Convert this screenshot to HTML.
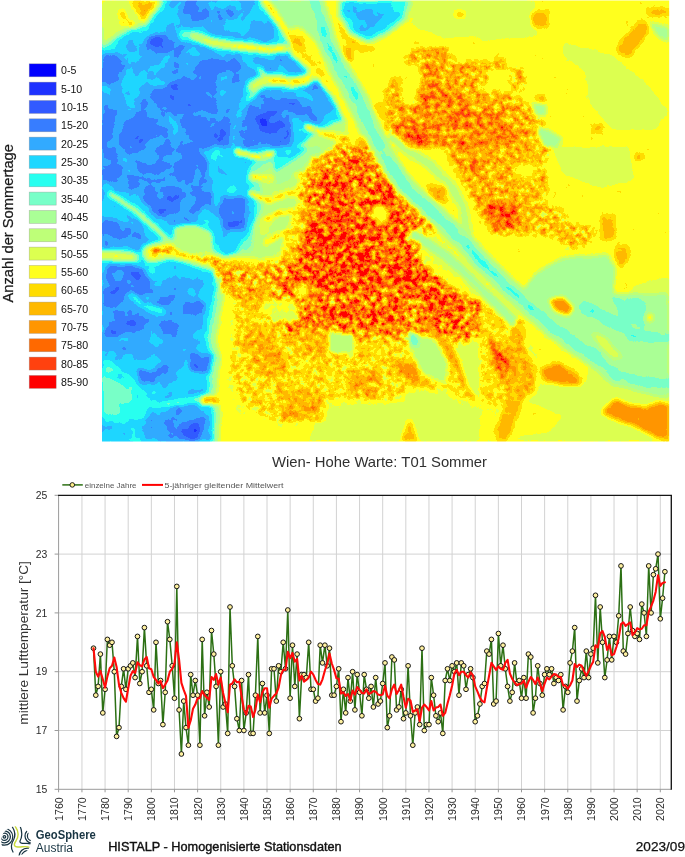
<!DOCTYPE html>
<html lang="de"><head><meta charset="utf-8"><title>Wien - Hohe Warte: Sommertage und Sommertemperatur</title>
<style>html,body{margin:0;padding:0;background:#fff}body{width:685px;height:857px;overflow:hidden}svg{display:block}text{font-family:"Liberation Sans",sans-serif}</style>
</head><body>
<svg width="685" height="857" viewBox="0 0 685 857">
<defs>
<clipPath id="mc"><rect x="102.0" y="0.6" width="567.2" height="441.0"/></clipPath>
<filter id="bl" x="0" y="0" width="685" height="460" filterUnits="userSpaceOnUse" color-interpolation-filters="sRGB">
<feGaussianBlur in="SourceGraphic" stdDeviation="2.2" result="S0"/>
<feColorMatrix in="S0" type="matrix" values="1 0 0 0 0  1 0 0 0 0  1 0 0 0 0  0 0 0 0 1" result="V"/>
<feColorMatrix in="S0" type="matrix" values="0 1 0 0 0  0 1 0 0 0  0 1 0 0 0  0 0 0 0 1" result="M"/>
<feColorMatrix in="S0" type="matrix" values="0 -1 0 0 1  0 -1 0 0 1  0 -1 0 0 1  0 0 0 0 1" result="Mi"/>
<feColorMatrix in="S0" type="matrix" values="0 0 1 0 0  0 0 1 0 0  0 0 1 0 0  0 0 0 0 1" result="B"/>
<feColorMatrix in="S0" type="matrix" values="0 0 -1 0 1  0 0 -1 0 1  0 0 -1 0 1  0 0 0 0 1" result="Bi"/>
<feTurbulence type="fractalNoise" baseFrequency="0.17" numOctaves="3" seed="7" result="T"/>
<feColorMatrix in="T" type="matrix" values="1.6 0 0 0 -0.3  1.6 0 0 0 -0.3  1.6 0 0 0 -0.3  0 0 0 0 1" result="N"/>
<feTurbulence type="fractalNoise" baseFrequency="0.055" numOctaves="3" seed="3" result="T2"/>
<feColorMatrix in="T2" type="matrix" values="0 1.6 0 0 -0.3  0 1.6 0 0 -0.3  0 1.6 0 0 -0.3  0 0 0 0 1" result="N2"/>
<feComposite in="V" in2="Mi" operator="arithmetic" k1="0" k2="1" k3="0.225" k4="-0.225" result="F"/>
<feComposite in="M" in2="N" operator="arithmetic" k1="1" k2="0" k3="0" k4="0" result="P"/>
<feComposite in="F" in2="P" operator="arithmetic" k1="0" k2="1" k3="0.45" k4="0" result="V2"/>
<feComposite in="B" in2="N2" operator="arithmetic" k1="1" k2="0" k3="0" k4="0" result="Q"/>
<feComposite in="V2" in2="Q" operator="arithmetic" k1="0" k2="1" k3="0.1" k4="0" result="V3"/>
<feComposite in="V3" in2="Bi" operator="arithmetic" k1="0" k2="1" k3="0.05" k4="-0.05" result="V4"/>
<feComponentTransfer in="V4" result="D"><feFuncR type="discrete" tableValues="0.000 0.118 0.196 0.216 0.196 0.118 0.157 0.471 0.667 0.745 0.863 1.000 1.000 1.000 1.000 1.000 1.000 1.000"/><feFuncG type="discrete" tableValues="0.000 0.196 0.353 0.490 0.667 0.843 1.000 1.000 1.000 1.000 1.000 1.000 0.863 0.725 0.588 0.412 0.255 0.000"/><feFuncB type="discrete" tableValues="1.000 1.000 1.000 1.000 1.000 1.000 0.941 0.784 0.588 0.471 0.314 0.118 0.000 0.000 0.000 0.000 0.059 0.000"/><feFuncA type="linear" slope="0" intercept="1"/></feComponentTransfer>
<feGaussianBlur in="D" stdDeviation="0.55"/>
</filter>
<clipPath id="lc"><circle cx="16" cy="841" r="14.8"/></clipPath>
</defs>
<rect width="685" height="857" fill="#fff"/>
<g clip-path="url(#mc)">
<g filter="url(#bl)"><rect x="60" y="-30" width="660" height="510" fill="#a31440"/>
<polygon fill="#95004c" points="406.9,0.0 480.0,0.0 480.0,35.9 445.5,38.6 415.2,27.6"/>
<polygon fill="#95004c" points="480.0,0.0 535.2,0.0 536.6,35.9 507.6,38.6 480.0,41.4"/>
<polygon fill="#95004c" points="562.8,41.4 612.4,55.2 645.5,82.8 669.0,110.4 656.6,129.7 612.4,129.7 590.4,104.8 584.8,71.7 562.8,55.2"/>
<polygon fill="#95004c" points="551.7,147.0 629.0,147.0 634.5,180.1 601.4,188.4 562.8,174.6"/>
<polygon fill="#95004c" points="634.5,285.0 669.0,276.7 669.0,294.1 629.0,294.1"/>
<polygon fill="#95004c" points="324.1,398.8 373.8,396.1 412.4,390.6 445.5,398.8 480.0,404.4 480.0,441.1 307.6,441.1 318.6,418.2"/>
<polygon fill="#95004c" points="448.3,343.7 480.0,338.1 480.0,404.4 462.1,385.1"/>
<polygon fill="#95004c" points="480.0,294.0 669.0,294.0 669.0,441.1 480.0,441.1"/>
<polygon fill="#a31440" points="480.0,294.0 513.1,294.0 535.2,327.1 562.8,349.2 590.4,365.7 584.8,382.3 535.2,385.1 507.6,390.6 480.0,385.1"/>
<polygon fill="#a31440" points="480.0,398.8 535.2,404.4 562.8,415.4 549.0,432.0 480.0,441.1"/>
<polygon fill="#780066" stroke="#780066" stroke-width="20.6" stroke-linejoin="round" points="71.1,273.2 211.3,273.2 214.4,288.7 209.2,314.4 205.1,340.2 210.2,360.8 205.1,391.8 210.2,417.5 207.7,441.8 207.7,474.2 71.1,474.2"/>
<polygon fill="#6a0099" stroke="#6a0099" stroke-width="11.3" stroke-linejoin="round" points="71.1,273.2 211.3,273.2 214.4,288.7 209.2,314.4 205.1,340.2 210.2,360.8 205.1,391.8 210.2,417.5 207.7,441.8 207.7,474.2 71.1,474.2"/>
<polygon fill="#780066" stroke="#780066" stroke-width="36.1" stroke-linejoin="round" points="71.1,49.0 102.0,45.4 117.5,37.1 143.2,26.8 162.8,0.0 162.8,-30.9 268.0,-30.9 268.0,0.0 279.8,23.2 297.9,43.8 315.9,59.3 331.4,82.5 344.3,105.7 336.5,123.7 318.5,135.1 297.9,141.8 277.3,146.9 256.6,154.6 245.3,167.5 246.3,185.6 252.5,203.6 251.5,221.6 241.2,239.7 225.7,252.6 212.8,268.0 212.8,280.9 71.1,280.9"/>
<polygon fill="#6a0099" stroke="#6a0099" stroke-width="22.7" stroke-linejoin="round" points="71.1,49.0 102.0,45.4 117.5,37.1 143.2,26.8 162.8,0.0 162.8,-30.9 268.0,-30.9 268.0,0.0 279.8,23.2 297.9,43.8 315.9,59.3 331.4,82.5 344.3,105.7 336.5,123.7 318.5,135.1 297.9,141.8 277.3,146.9 256.6,154.6 245.3,167.5 246.3,185.6 252.5,203.6 251.5,221.6 241.2,239.7 225.7,252.6 212.8,268.0 212.8,280.9 71.1,280.9"/>
<polygon fill="#4e00e6" stroke="#4e00e6" stroke-width="7.2" stroke-linejoin="round" points="71.1,49.0 102.0,45.4 117.5,37.1 143.2,26.8 162.8,0.0 162.8,-30.9 268.0,-30.9 268.0,0.0 279.8,23.2 297.9,43.8 315.9,59.3 331.4,82.5 344.3,105.7 336.5,123.7 318.5,135.1 297.9,141.8 277.3,146.9 256.6,154.6 245.3,167.5 246.3,185.6 252.5,203.6 251.5,221.6 241.2,239.7 225.7,252.6 212.8,268.0 212.8,280.9 71.1,280.9"/>
<polygon fill="#4e00e6" stroke="#4e00e6" stroke-width="3.1" stroke-linejoin="round" points="71.1,273.2 211.3,273.2 214.4,288.7 209.2,314.4 205.1,340.2 210.2,360.8 205.1,391.8 210.2,417.5 207.7,441.8 207.7,474.2 71.1,474.2"/>
<polygon fill="#4000ff" points="71.1,64.4 112.3,56.7 132.9,49.0 158.7,36.1 174.2,15.5 179.3,-30.9 256.6,-30.9 261.8,15.5 277.3,38.7 295.3,56.7 310.8,72.2 323.6,90.2 328.8,108.2 321.1,119.6 305.6,126.8 285.0,131.4 264.4,135.1 246.3,141.8 233.4,154.6 230.9,175.3 236.0,195.9 237.1,213.9 228.3,229.4 212.8,242.3 202.5,257.7 71.1,257.7"/>
<polygon fill="#3900ff" points="143.2,97.9 184.5,87.6 236.0,103.1 256.6,134.0 225.7,170.1 205.1,206.2 163.9,226.8 132.9,206.2 122.6,154.6"/>
<polygon fill="#4700ff" points="165.5,0.0 264.8,0.0 278.6,22.1 256.5,35.9 212.4,30.4 184.8,24.8 171.0,11.0"/>
<polygon fill="#4700ff" points="102.0,55.2 135.1,49.7 146.1,71.7 135.1,99.3 118.6,115.9 102.0,110.4"/>
<polygon fill="#4e00e6" points="195.8,152.5 217.9,147.0 240.0,147.0 245.5,174.6 240.0,202.2 245.5,229.8 234.4,257.4 206.8,268.4 184.8,268.4 157.2,262.9 143.4,251.8 184.8,238.1 206.8,202.2 212.4,180.1"/>
<polygon fill="#4700ff" points="102.0,182.9 143.4,202.2 184.8,238.1 143.4,251.8 102.0,238.1"/>
<polygon fill="#4c00ff" points="71.1,280.9 193.8,280.9 198.9,309.3 193.8,340.2 198.9,360.8 191.2,391.8 196.3,417.5 193.8,474.2 71.1,474.2"/>
<polygon fill="#4000ff" points="102.0,277.4 198.6,277.4 202.7,321.6 198.6,349.2 157.2,357.5 102.0,349.2"/>
<polygon fill="#6a0099" points="337.9,0.0 412.4,0.0 406.9,19.3 387.6,34.5 368.3,42.8 348.9,34.5 339.3,16.6"/>
<polygon fill="#4e00e6" points="343.4,0.0 406.9,0.0 401.4,16.6 384.8,30.4 368.3,38.6 351.7,30.4 343.4,13.8"/>
<polygon fill="#4000ff" points="348.9,8.3 360.0,5.5 376.5,8.3 384.8,16.6 373.8,22.1 357.2,20.7"/>
<polygon fill="#4000ff" points="291.0,91.1 313.1,89.7 329.6,99.3 335.1,110.4 318.6,117.3 302.0,122.8 291.0,125.5"/>
<polygon fill="#3200ff" points="291.0,99.3 304.8,97.9 313.1,107.6 299.3,115.9 291.0,118.6"/>
<polygon fill="#3200ff" points="148.9,35.9 171.0,33.1 184.8,44.1 179.3,55.2 157.2,52.4 146.1,46.9"/>
<polygon fill="#3200ff" points="102.0,55.2 118.6,52.4 126.8,66.2 118.6,82.8 102.0,85.5"/>
<polygon fill="#3200ff" points="146.1,91.1 173.7,82.8 193.1,69.0 212.4,63.5 223.4,71.7 212.4,82.8 217.9,96.6 206.8,110.4 184.8,115.9 171.0,104.8 154.4,104.8"/>
<polygon fill="#3200ff" points="209.6,60.7 234.4,57.9 245.5,69.0 231.7,74.5 212.4,71.7"/>
<polygon fill="#3200ff" points="132.4,110.4 157.2,115.9 151.7,138.0 135.1,147.1 118.6,147.1 121.3,124.2"/>
<polygon fill="#3200ff" points="102.0,104.8 115.8,110.4 113.0,138.0 102.0,147.1"/>
<polygon fill="#3200ff" points="251.0,104.8 291.0,99.3 291.0,147.1 245.5,147.1 240.0,129.7"/>
<polygon fill="#3200ff" points="184.8,0.0 206.8,0.0 209.6,16.6 193.1,22.1 182.0,13.8"/>
<polygon fill="#3200ff" points="215.1,8.3 231.7,5.5 234.4,19.3 217.9,22.1"/>
<polygon fill="#3200ff" points="193.1,118.6 220.6,121.4 226.2,138.0 212.4,147.1 193.1,147.1"/>
<polygon fill="#2300ff" points="256.5,113.1 278.6,110.4 284.1,126.9 267.5,132.4 256.5,124.2"/>
<circle fill="#0700ff" cx="263.4" cy="121.4" r="2.5"/>
<polyline fill="none" stroke="#4e00e6" stroke-width="3.9" stroke-linecap="round" stroke-linejoin="round" points="143.4,24.8 140.6,41.4 132.4,60.7 125.5,80.0 124.1,93.8 133.7,106.2"/>
<polyline fill="none" stroke="#4e00e6" stroke-width="3.9" stroke-linecap="round" stroke-linejoin="round" points="184.8,35.9 171.0,52.4 161.3,66.2 140.6,71.7"/>
<polyline fill="none" stroke="#4e00e6" stroke-width="4.4" stroke-linecap="round" stroke-linejoin="round" points="248.2,96.6 240.0,110.4 234.4,126.9 233.1,147.1"/>
<polyline fill="none" stroke="#4e00e6" stroke-width="3.3" stroke-linecap="round" stroke-linejoin="round" points="157.2,11.0 173.7,16.6 184.8,30.4"/>
<polyline fill="none" stroke="#4e00e6" stroke-width="3.3" stroke-linecap="round" stroke-linejoin="round" points="168.2,115.9 176.5,124.2 173.7,147.1"/>
<polyline fill="none" stroke="#4e00e6" stroke-width="3.3" stroke-linecap="round" stroke-linejoin="round" points="220.6,0.0 223.4,13.8 234.4,27.6"/>
<polyline fill="none" stroke="#4e00e6" stroke-width="3.3" stroke-linecap="round" stroke-linejoin="round" points="231.7,30.4 245.5,24.8 256.5,11.0 260.6,0.0"/>
<polyline fill="none" stroke="#4e00e6" stroke-width="3.3" stroke-linecap="round" stroke-linejoin="round" points="107.5,91.1 124.1,93.8"/>
<polyline fill="none" stroke="#4e00e6" stroke-width="3.3" stroke-linecap="round" stroke-linejoin="round" points="193.1,49.7 206.8,57.9 223.4,55.2"/>
<polygon fill="#3200ff" points="102.0,163.6 124.1,166.3 118.6,182.9 102.0,180.1"/>
<polygon fill="#3200ff" points="154.4,147.0 195.8,147.0 209.6,163.6 206.8,180.1 184.8,177.4 173.7,163.6 157.2,163.6"/>
<polygon fill="#3200ff" points="143.4,188.4 179.3,185.6 182.0,210.5 157.2,216.0 143.4,202.2"/>
<polygon fill="#3200ff" points="223.4,193.9 245.5,196.7 245.5,229.8 223.4,229.8 217.9,213.2"/>
<polygon fill="#3200ff" points="102.0,218.7 129.6,224.3 143.4,238.1 118.6,238.1 102.0,235.3"/>
<polygon fill="#3200ff" points="107.5,262.9 143.4,268.4 157.2,294.1 102.0,294.1"/>
<polygon fill="#3200ff" points="102.0,147.0 118.6,147.0 115.8,158.0 102.0,158.0"/>
<polygon fill="#3200ff" points="193.1,188.4 212.4,191.1 212.4,204.9 195.8,202.2"/>
<polyline fill="none" stroke="#4e00e6" stroke-width="12.1" stroke-linecap="round" stroke-linejoin="round" points="110.3,193.9 135.1,210.5 157.2,229.8 171.0,243.6"/>
<polyline fill="none" stroke="#6a0099" stroke-width="6.1" stroke-linecap="round" stroke-linejoin="round" points="110.3,193.9 135.1,210.5 157.2,229.8 171.0,243.6"/>
<polyline fill="none" stroke="#95004c" stroke-width="2.5" stroke-linecap="round" stroke-linejoin="round" points="110.3,193.9 135.1,210.5 157.2,229.8 171.0,243.6"/>
<polyline fill="none" stroke="#4e00e6" stroke-width="3.3" stroke-linecap="round" stroke-linejoin="round" points="129.6,171.8 157.2,177.4 168.2,171.8"/>
<polyline fill="none" stroke="#4e00e6" stroke-width="3.3" stroke-linecap="round" stroke-linejoin="round" points="118.6,147.0 126.8,163.6 129.6,171.8"/>
<polygon fill="#3200ff" points="110.3,321.6 137.9,318.8 146.1,329.9 118.6,338.1 102.0,335.4"/>
<polygon fill="#3200ff" points="154.4,324.4 179.3,321.6 176.5,338.1 157.2,338.1"/>
<polygon fill="#3200ff" points="182.0,302.3 206.8,302.3 206.8,313.3 184.8,316.1"/>
<polygon fill="#3200ff" points="187.5,351.9 212.4,354.7 209.6,374.0 190.3,371.3"/>
<polygon fill="#3200ff" points="137.9,368.5 157.2,371.3 157.2,385.1 140.6,382.3"/>
<polygon fill="#3200ff" points="102.0,385.1 118.6,387.8 118.6,398.8 102.0,404.4"/>
<polygon fill="#3200ff" points="102.0,294.0 126.8,294.0 118.6,305.0 102.0,307.8"/>
<polygon fill="#3200ff" points="176.5,423.7 206.8,415.4 201.3,441.1 179.3,441.1"/>
<polygon fill="#4000ff" points="157.2,349.2 184.8,346.4 184.8,376.8 162.7,387.8 154.4,365.7"/>
<polygon fill="#4000ff" points="151.7,409.9 212.4,404.4 212.4,441.1 143.4,441.1"/>
<polygon fill="#3200ff" points="176.5,423.7 206.8,415.4 201.3,441.1 179.3,441.1"/>
<polygon fill="#2300ff" points="182.0,429.2 198.6,423.7 195.8,441.1 183.4,441.1"/>
<polygon fill="#5c00e6" points="102.0,357.5 118.6,363.0 129.6,376.8 148.9,398.8 146.1,415.4 118.6,423.7 102.0,423.7"/>
<polygon fill="#6a0099" points="102.0,376.8 118.6,379.5 132.4,396.1 129.6,412.6 102.0,415.4"/>
<polyline fill="none" stroke="#6a0099" stroke-width="3.3" stroke-linecap="round" stroke-linejoin="round" points="132.4,294.0 140.6,305.0 162.7,310.6"/>
<polyline fill="none" stroke="#780066" stroke-width="3.3" stroke-linecap="round" stroke-linejoin="round" points="165.5,404.4 195.8,399.4 212.4,398.8"/>
<polygon fill="#bf3326" points="201.3,396.1 217.9,396.1 217.9,404.4 201.3,404.4"/>
<polygon fill="#4e00e6" points="102.0,0.0 169.6,0.0 161.3,15.2 147.5,30.4 132.4,34.5 121.3,41.4 110.3,49.7 102.0,53.8"/>
<polygon fill="#6a0099" points="102.0,0.0 165.5,0.0 157.2,13.2 145.6,27.0 131.0,30.4 119.9,37.2 108.9,45.5 102.0,49.7"/>
<polygon fill="#95004c" points="102.0,0.0 161.3,0.0 154.4,11.0 143.4,23.5 129.6,26.2 118.6,33.1 107.5,41.4 102.0,45.5"/>
<polygon fill="#b13326" points="131.0,0.0 161.3,0.0 153.0,12.4 143.4,24.3 139.2,16.6 132.4,8.3"/>
<polygon fill="#bf3326" points="136.5,0.0 155.8,0.0 148.9,11.0 142.8,19.3 139.2,11.0"/>
<polygon fill="#b13326" points="118.6,11.0 124.1,8.3 126.8,19.3 139.2,26.2 129.6,27.6 119.9,22.1"/>
<polyline fill="none" stroke="#4e00e6" stroke-width="15.5" stroke-linecap="round" stroke-linejoin="round" points="184.8,35.3 198.6,36.4 212.4,42.8 231.7,45.5 251.0,47.5 267.5,49.7 291.0,46.9"/>
<polyline fill="none" stroke="#6a0099" stroke-width="9.9" stroke-linecap="round" stroke-linejoin="round" points="184.8,35.3 198.6,36.4 212.4,42.8 231.7,45.5 251.0,47.5 267.5,49.7 291.0,46.9"/>
<polyline fill="none" stroke="#95004c" stroke-width="5.5" stroke-linecap="round" stroke-linejoin="round" points="193.1,35.9 212.4,42.8 231.7,45.5 251.0,47.5 267.5,49.7 291.0,46.9"/>
<polyline fill="none" stroke="#a31440" stroke-width="4.4" stroke-linecap="round" stroke-linejoin="round" points="206.8,40.8 231.7,45.5 251.0,47.5 267.5,49.7 291.0,46.9"/>
<polyline fill="none" stroke="#bf4c26" stroke-width="2.5" stroke-linecap="round" stroke-linejoin="round" points="234.4,45.5 251.0,47.5 267.5,49.7 291.0,46.9"/>
<polyline fill="none" stroke="#4e00e6" stroke-width="17.7" stroke-linecap="round" stroke-linejoin="round" points="264.8,0.0 278.6,19.3 291.0,38.6"/>
<polyline fill="none" stroke="#6a0099" stroke-width="12.1" stroke-linecap="round" stroke-linejoin="round" points="264.8,0.0 278.6,19.3 291.0,38.6"/>
<polygon fill="#780066" points="270.3,0.0 291.0,0.0 291.0,35.9 281.3,22.1"/>
<polyline fill="none" stroke="#b13326" stroke-width="6.1" stroke-linecap="round" stroke-linejoin="round" points="264.8,0.0 278.6,19.3 291.0,38.6 303.4,55.2"/>
<polyline fill="none" stroke="#4e00e6" stroke-width="18.2" stroke-linecap="round" stroke-linejoin="round" points="252.4,86.9 264.8,80.6 278.6,80.0 291.0,82.8"/>
<polyline fill="none" stroke="#6a0099" stroke-width="12.7" stroke-linecap="round" stroke-linejoin="round" points="252.4,86.9 264.8,80.6 278.6,80.0 291.0,82.8"/>
<polyline fill="none" stroke="#95004c" stroke-width="8.3" stroke-linecap="round" stroke-linejoin="round" points="253.8,86.1 264.8,80.6 278.6,80.0 291.0,82.8"/>
<polyline fill="none" stroke="#a31440" stroke-width="5.0" stroke-linecap="round" stroke-linejoin="round" points="259.3,82.8 264.8,80.6 278.6,80.0 291.0,82.8"/>
<polyline fill="none" stroke="#6a0099" stroke-width="12.7" stroke-linecap="round" stroke-linejoin="round" points="291.0,82.8 306.2,80.0 320.0,69.0"/>
<polyline fill="none" stroke="#95004c" stroke-width="8.3" stroke-linecap="round" stroke-linejoin="round" points="291.0,82.8 306.2,80.0 320.0,69.0"/>
<polyline fill="none" stroke="#a31440" stroke-width="5.0" stroke-linecap="round" stroke-linejoin="round" points="291.0,82.8 306.2,80.0 320.0,69.0"/>
<polyline fill="none" stroke="#bf6626" stroke-width="3.3" stroke-linecap="round" stroke-linejoin="round" points="273.1,80.6 291.0,82.2 306.2,80.0"/>
<polyline fill="none" stroke="#95004c" stroke-width="3.3" stroke-linecap="round" stroke-linejoin="round" points="267.5,78.6 259.3,69.0"/>
<polyline fill="none" stroke="#780066" stroke-width="3.9" stroke-linecap="round" stroke-linejoin="round" points="259.3,88.3 248.2,99.3"/>
<polyline fill="none" stroke="#4e00e6" stroke-width="16.6" stroke-linecap="round" stroke-linejoin="round" points="99.2,255.2 118.6,256.0 137.9,257.9"/>
<polyline fill="none" stroke="#780066" stroke-width="10.5" stroke-linecap="round" stroke-linejoin="round" points="99.2,255.2 118.6,256.0 135.1,257.4"/>
<polyline fill="none" stroke="#a31440" stroke-width="5.5" stroke-linecap="round" stroke-linejoin="round" points="99.2,255.2 118.6,256.0 132.4,257.4"/>
<polyline fill="none" stroke="#780066" stroke-width="19.9" stroke-linecap="round" stroke-linejoin="round" points="151.7,253.2 171.0,249.6 193.1,255.2 212.4,260.7 226.2,266.2"/>
<polyline fill="none" stroke="#a31440" stroke-width="13.2" stroke-linecap="round" stroke-linejoin="round" points="151.7,253.2 171.0,249.6 193.1,255.2 212.4,260.7 226.2,266.2"/>
<polyline fill="none" stroke="#bfd926" stroke-width="6.6" stroke-linecap="round" stroke-linejoin="round" points="154.4,251.8 171.0,249.6 193.1,255.2 212.4,260.7 226.2,266.2"/>
<polygon fill="#870066" points="173.7,227.0 193.1,224.3 211.0,232.5 212.4,253.2 193.1,256.0 173.7,250.5"/>
<polygon fill="#9c0d4c" stroke="#9c0d4c" stroke-width="18.6" stroke-linejoin="round" points="362.3,121.1 349.4,149.5 334.0,159.8 318.5,175.3 305.6,190.7 295.3,211.3 285.0,232.0 274.7,252.6 256.6,265.5 233.4,263.9 224.7,273.2 238.6,288.7 251.5,309.3 248.9,335.1 238.6,360.8 237.1,386.6 246.3,407.2 272.1,412.4 308.2,407.2 339.1,396.9 386.0,391.8 431.9,384.0 462.8,396.9 493.8,407.2 519.5,399.5 529.8,386.6 527.3,350.5 514.4,329.9 493.8,309.3 493.8,288.7 470.6,257.7 442.2,219.1 411.3,177.8 380.4,141.8"/>
<polygon fill="#ae8026" stroke="#9c0d4c" stroke-width="8.3" stroke-linejoin="round" points="231.6,262.3 405.0,262.3 405.0,398.2 381.4,400.9 325.9,398.2 323.2,420.4 278.8,423.1 242.7,406.5 228.9,373.2 234.4,331.6"/>
<polygon fill="#ae6626" points="362.3,121.1 349.4,149.5 334.0,159.8 318.5,175.3 305.6,190.7 295.3,211.3 285.0,232.0 274.7,252.6 256.6,265.5 233.4,263.9 224.7,273.2 238.6,288.7 251.5,309.3 248.9,335.1 238.6,360.8 237.1,386.6 246.3,407.2 272.1,412.4 308.2,407.2 339.1,396.9 386.0,391.8 431.9,384.0 462.8,396.9 493.8,407.2 519.5,399.5 529.8,386.6 527.3,350.5 514.4,329.9 493.8,309.3 493.8,288.7 470.6,257.7 442.2,219.1 411.3,177.8 380.4,141.8"/>
<polygon fill="#ae8026" points="231.6,262.3 405.0,262.3 405.0,398.2 381.4,400.9 325.9,398.2 323.2,420.4 278.8,423.1 242.7,406.5 228.9,373.2 234.4,331.6"/>
<polygon fill="#870099" points="340.2,121.1 362.4,132.2 329.1,165.5 301.4,193.2 290.3,220.9 279.2,257.8 251.5,257.8 254.2,226.5 265.3,201.5 259.8,179.3 279.2,157.2 306.9,140.5 326.4,126.6"/>
<polyline fill="none" stroke="#a31440" stroke-width="5.0" stroke-linecap="round" stroke-linejoin="round" points="334.7,162.7 306.9,157.2 279.2,151.6 257.0,157.2 237.6,151.6"/>
<polyline fill="none" stroke="#bf9926" stroke-width="2.8" stroke-linecap="round" stroke-linejoin="round" points="334.7,162.7 306.9,157.2 279.2,151.6 257.0,157.2 237.6,151.6"/>
<polyline fill="none" stroke="#a31440" stroke-width="5.0" stroke-linecap="round" stroke-linejoin="round" points="323.6,179.3 293.1,173.8 273.7,179.3 251.5,176.6"/>
<polyline fill="none" stroke="#bf9926" stroke-width="2.8" stroke-linecap="round" stroke-linejoin="round" points="323.6,179.3 293.1,173.8 273.7,179.3 251.5,176.6"/>
<polyline fill="none" stroke="#a31440" stroke-width="5.0" stroke-linecap="round" stroke-linejoin="round" points="312.5,196.0 287.5,193.2 268.1,201.5 251.5,193.2"/>
<polyline fill="none" stroke="#bf9926" stroke-width="2.8" stroke-linecap="round" stroke-linejoin="round" points="312.5,196.0 287.5,193.2 268.1,201.5 251.5,193.2"/>
<polyline fill="none" stroke="#a31440" stroke-width="5.0" stroke-linecap="round" stroke-linejoin="round" points="304.2,209.9 279.2,212.6 265.3,220.9"/>
<polyline fill="none" stroke="#bf9926" stroke-width="2.8" stroke-linecap="round" stroke-linejoin="round" points="304.2,209.9 279.2,212.6 265.3,220.9"/>
<polyline fill="none" stroke="#a31440" stroke-width="5.0" stroke-linecap="round" stroke-linejoin="round" points="351.3,140.5 329.1,135.0 306.9,126.6"/>
<polyline fill="none" stroke="#bf9926" stroke-width="2.8" stroke-linecap="round" stroke-linejoin="round" points="351.3,140.5 329.1,135.0 306.9,126.6"/>
<polyline fill="none" stroke="#a31440" stroke-width="5.0" stroke-linecap="round" stroke-linejoin="round" points="295.9,229.3 279.2,234.8 265.3,243.1"/>
<polyline fill="none" stroke="#bf9926" stroke-width="2.8" stroke-linecap="round" stroke-linejoin="round" points="295.9,229.3 279.2,234.8 265.3,243.1"/>
<polygon fill="#b8bf26" stroke="#b8bf26" stroke-width="14.1" stroke-linejoin="round" points="362.0,134.8 374.9,149.3 390.9,168.5 407.0,187.8 423.1,207.1 435.9,223.1 413.4,229.6 419.9,248.8 439.1,264.9 460.0,280.9 471.2,297.0 471.2,335.5 288.2,335.5 275.3,309.9 259.3,297.0 240.0,290.6 227.2,287.4 227.2,271.3 240.0,271.3 265.7,271.3 285.0,268.7 299.4,252.0 307.4,232.1 309.1,211.9 304.2,191.0 315.5,168.5 336.4,152.5 349.2,144.5"/>
<polygon fill="#cdffcc" points="362.0,134.8 374.9,149.3 390.9,168.5 407.0,187.8 423.1,207.1 435.9,223.1 413.4,229.6 419.9,248.8 439.1,264.9 460.0,280.9 471.2,297.0 471.2,335.5 288.2,335.5 275.3,309.9 259.3,297.0 240.0,290.6 227.2,287.4 227.2,271.3 240.0,271.3 265.7,271.3 285.0,268.7 299.4,252.0 307.4,232.1 309.1,211.9 304.2,191.0 315.5,168.5 336.4,152.5 349.2,144.5"/>
<polygon fill="#d7ffcc" points="355.6,155.7 368.5,162.1 384.5,181.4 400.6,203.9 416.6,223.1 407.0,236.0 413.4,255.3 432.7,271.3 445.5,290.6 432.7,309.9 400.6,322.7 368.5,325.9 336.4,319.5 309.1,306.6 294.6,284.2 296.2,255.3 304.2,232.8 315.5,207.1 331.5,178.2"/>
<polygon fill="#e1ffcc" points="309.1,216.7 346.0,207.1 368.5,226.4 374.9,258.5 362.0,290.6 329.9,297.0 305.8,277.7 302.6,242.4"/>
<polygon fill="#e1ffcc" points="384.5,252.0 413.4,258.5 426.3,280.9 407.0,297.0 384.5,284.2"/>
<polygon fill="#e1ffcc" points="368.5,187.8 390.9,194.2 397.4,216.7 378.1,219.9"/>
<polygon fill="#e1ffcc" points="320.3,181.4 336.4,175.0 339.6,194.2 323.5,197.4"/>
<polygon fill="#a31440" points="373.3,205.5 387.7,207.1 389.3,219.9 379.7,224.7 371.7,216.7"/>
<polyline fill="none" stroke="#b18026" stroke-width="2.2" stroke-linecap="round" stroke-linejoin="round" points="371.7,160.5 360.4,191.0 355.6,216.7"/>
<polyline fill="none" stroke="#a31440" stroke-width="2.6" stroke-linecap="round" stroke-linejoin="round" points="381.3,274.5 400.6,297.0"/>
<polygon fill="#d7ffcc" points="306.5,290.0 405.0,290.0 405.0,320.5 381.4,326.1 353.7,317.7 325.9,315.0 309.3,303.9"/>
<polygon fill="#bf8026" points="242.7,326.1 270.5,331.6 287.1,359.3 281.6,381.5 259.4,373.2 245.5,351.0"/>
<polygon fill="#bf8026" points="278.8,389.9 320.4,389.9 321.8,419.0 281.6,420.4"/>
<polygon fill="#bf8026" points="348.1,367.7 381.4,370.4 378.6,398.2 350.9,395.4"/>
<polygon fill="#bf8026" points="298.2,326.1 331.5,328.8 328.7,359.3 303.8,356.6"/>
<polygon fill="#870066" points="273.2,306.6 298.2,306.6 298.2,320.5 273.2,320.5"/>
<polygon fill="#870066" points="328.7,331.6 353.7,334.4 353.7,353.8 328.7,352.4"/>
<polygon fill="#bf8026" points="240.0,290.0 270.5,290.0 267.7,306.6 242.7,309.4"/>
<polygon fill="#cdffcc" points="401.4,294.0 480.0,294.0 480.0,335.4 462.1,340.9 445.5,329.9 423.4,321.6 406.9,316.1"/>
<polygon fill="#dcffcc" points="417.9,294.0 456.5,294.0 462.1,310.6 456.5,329.9 440.0,324.4 423.4,310.6"/>
<polygon fill="#bf5926" points="401.4,357.5 423.4,376.8 440.0,390.6 409.6,385.1"/>
<polygon fill="#cd5926" points="393.1,360.2 412.4,363.0 420.7,376.8 401.4,376.8"/>
<polygon fill="#870066" points="406.9,329.9 434.5,338.1 448.3,363.0 445.5,385.1 423.4,374.0 412.4,354.7"/>
<polygon fill="#6a0099" points="408.3,332.6 417.9,335.4 419.3,347.8 409.6,346.4"/>
<polyline fill="none" stroke="#cd3326" stroke-width="6.1" stroke-linecap="round" stroke-linejoin="round" points="423.4,321.6 445.5,343.7 459.3,368.5 473.1,396.1"/>
<polygon fill="#bf2626" points="409.6,418.2 417.9,441.1 401.4,441.1"/>
<polygon fill="#bfd926" points="215.0,258.5 232.5,262.0 250.0,269.1 267.6,270.8 285.1,272.6 295.6,277.8 295.6,295.3 285.1,295.3 267.6,290.1 250.0,293.6 232.5,290.1 215.0,277.8"/>
<polygon fill="#d7ffcc" points="281.6,277.8 295.6,277.8 295.6,295.3 281.6,295.3"/>
<polygon fill="#a31440" points="295.6,284.8 309.6,284.8 309.6,297.1 295.6,297.1"/>
<polygon fill="#9c0d4c" points="262.3,299.7 295.6,299.7 297.3,314.6 260.5,314.6"/>
<polygon fill="#bfa626" points="412.4,49.7 445.5,46.9 456.5,63.5 480.0,60.7 480.0,147.1 387.6,147.1 386.2,124.2 387.6,110.4 386.2,91.1 390.3,82.8 401.4,71.7 406.9,57.9"/>
<polygon fill="#a31440" points="401.4,63.5 420.7,63.5 422.1,82.8 412.4,104.8 401.4,102.1 398.6,82.8"/>
<polygon fill="#cda6cc" points="423.4,63.5 434.5,60.7 440.0,82.8 456.5,91.1 480.0,115.9 480.0,147.1 390.3,147.1 395.8,126.9 412.4,115.9 420.7,93.8"/>
<polygon fill="#dca6cc" points="401.4,129.7 420.7,124.2 429.0,138.0 420.7,147.1 401.4,147.1"/>
<polygon fill="#cda6cc" points="424.8,66.2 433.1,64.8 434.5,80.0 426.2,80.0"/>
<polygon fill="#b8a626" points="480.0,60.7 491.0,63.5 502.1,55.2 507.6,66.2 521.4,69.0 526.9,85.5 515.9,91.1 507.6,82.8 493.8,71.7 485.5,82.8 480.0,82.8"/>
<polygon fill="#a31440" points="488.3,69.0 510.4,69.0 513.1,85.5 491.0,88.3"/>
<polygon fill="#bfa626" points="480.0,91.1 513.1,93.8 535.2,110.4 551.7,138.0 546.2,147.1 480.0,147.1"/>
<polygon fill="#cda6cc" points="480.0,110.4 502.1,115.9 518.6,132.4 513.1,147.1 480.0,147.1"/>
<polygon fill="#b8a626" points="480.0,147.0 551.7,147.0 543.5,163.6 549.0,182.9 543.5,202.2 565.5,213.2 571.1,224.3 595.9,227.0 590.4,240.8 571.1,249.1 549.0,235.3 521.4,235.3 496.6,235.3 480.0,218.7"/>
<polygon fill="#bfa626" points="480.0,147.0 521.4,147.0 513.1,169.1 524.1,188.4 518.6,210.5 529.7,227.0 496.6,232.5 480.0,216.0"/>
<polygon fill="#dca6cc" points="485.5,202.2 515.9,202.2 518.6,227.0 491.0,229.8"/>
<polygon fill="#a31440" points="513.1,163.6 535.2,163.6 535.2,177.4 515.9,177.4"/>
<polygon fill="#bfa626" points="445.5,147.0 480.0,147.0 480.0,216.0 467.6,191.1 453.8,169.1"/>
<polygon fill="#cda6cc" points="462.1,147.0 480.0,147.0 480.0,180.1 470.3,169.1"/>
<polygon fill="#780066" points="291.0,0.0 324.1,0.0 332.4,41.4 346.2,77.3 362.7,115.9 373.8,147.1 351.7,147.1 344.8,115.9 326.9,71.7 302.0,35.9 291.0,27.6"/>
<polygon fill="#a31440" points="291.0,26.2 302.0,27.6 315.8,41.4 328.2,69.0 343.4,96.6 357.2,124.2 365.5,147.1 348.9,147.1 346.2,124.2 332.4,96.6 307.6,69.0 291.0,55.2"/>
<polygon fill="#bf2626" points="291.0,35.9 302.0,38.6 304.8,46.9 291.0,49.7"/>
<polyline fill="none" stroke="#b13326" stroke-width="4.4" stroke-linecap="round" stroke-linejoin="round" points="293.8,44.1 307.6,57.9 320.0,73.1 328.2,85.5"/>
<polyline fill="none" stroke="#bf2626" stroke-width="3.9" stroke-linecap="round" stroke-linejoin="round" points="340.7,24.8 346.2,35.9 362.7,49.7 372.4,47.5"/>
<polygon fill="#bf2626" points="335.1,46.9 351.7,46.9 353.1,60.7 336.5,60.7"/>
<polygon fill="#b12626" points="373.8,102.1 387.6,102.1 387.6,118.6 373.8,118.6"/>
<polygon fill="#bf2626" points="357.2,138.0 365.5,135.2 368.3,147.1 357.2,147.1"/>
<polygon fill="#a31440" points="382.1,147.0 445.5,147.0 453.8,169.1 467.6,191.1 480.0,216.0 480.0,257.4 456.5,240.8 434.5,218.7 409.6,191.1 387.6,163.6"/>
<polygon fill="#9c0d4c" points="420.0,240.5 446.3,230.0 455.0,230.0 540.0,312.3 540.0,323.4 518.1,323.4 490.1,303.6 472.6,298.3 455.0,287.8 437.5,275.5 420.0,259.8"/>
<polygon fill="#bf3326" points="427.6,185.6 445.5,185.6 446.9,202.2 429.0,202.2"/>
<polygon fill="#780066" points="274.4,147.0 321.4,147.0 304.8,163.6 291.0,177.4 274.4,188.4"/>
<polygon fill="#4e00e6" points="274.4,147.0 307.6,147.0 291.0,160.8 274.4,171.8"/>
<polygon fill="#780066" points="562.8,257.4 606.9,254.6 615.2,268.4 612.4,294.1 521.4,294.1 535.2,273.9"/>
<polyline fill="none" stroke="#b18026" stroke-width="2.2" stroke-linecap="round" stroke-linejoin="round" points="477.2,268.4 491.0,285.0 499.3,296.0"/>
<polygon fill="#780066" points="507.6,294.0 669.0,294.0 669.0,398.8 634.5,390.6 606.9,379.5 590.4,365.7 562.8,346.4 535.2,324.4"/>
<polyline fill="none" stroke="#6a0099" stroke-width="11.0" stroke-linecap="round" stroke-linejoin="round" points="582.1,305.0 612.4,321.6 634.5,335.4 670.4,338.1"/>
<polygon fill="#6a0099" points="609.7,294.0 645.5,302.3 645.5,327.1 623.5,321.6"/>
<polygon fill="#95004c" points="590.4,332.6 604.2,335.4 623.5,357.5 609.7,360.2"/>
<polygon fill="#95004c" points="453.8,346.4 480.0,338.1 480.0,404.4 467.6,387.8"/>
<polyline fill="none" stroke="#870066" stroke-width="9.5" stroke-linecap="round" stroke-linejoin="round" points="392.0,138.0 406.0,150.0 431.0,165.0 452.0,187.0 463.0,208.0 468.0,234.0"/>
<polyline fill="none" stroke="#780066" stroke-width="19.0" stroke-linecap="round" stroke-linejoin="round" points="312.0,-8.0 326.0,40.0 340.0,70.0 359.0,100.0 369.0,125.0 382.0,150.0 397.0,176.0 407.0,188.0 435.0,214.0 461.0,239.0 480.0,260.0 503.0,283.0 531.0,308.0 560.0,332.0 596.0,357.0 618.0,376.0 646.0,382.0 675.0,385.0"/>
<polyline fill="none" stroke="#6a0099" stroke-width="9.5" stroke-linecap="round" stroke-linejoin="round" points="312.0,-8.0 326.0,40.0 340.0,70.0 359.0,100.0 369.0,125.0 382.0,150.0 397.0,176.0 407.0,188.0 435.0,214.0 461.0,239.0 480.0,260.0 503.0,283.0 531.0,308.0 560.0,332.0 596.0,357.0 618.0,376.0 646.0,382.0 675.0,385.0"/>
<polyline fill="none" stroke="#5c00e6" stroke-width="3.0" stroke-linecap="round" stroke-linejoin="round" points="312.0,-8.0 326.0,40.0 340.0,70.0 359.0,100.0"/>
<polyline fill="none" stroke="#5c00e6" stroke-width="3.5" stroke-linecap="round" stroke-linejoin="round" points="461.0,239.0 480.0,260.0 503.0,283.0 531.0,308.0"/>
<polyline fill="none" stroke="#780066" stroke-width="9.0" stroke-linecap="round" stroke-linejoin="round" points="414.0,234.0 447.0,257.0 470.0,278.0 498.0,306.0 517.0,325.0"/>
<polygon fill="#bf1a26" points="531.0,12.4 549.0,11.0 547.6,27.6 532.4,27.6"/>
<polygon fill="#bf1a26" points="618.0,44.1 640.0,22.1 651.1,24.8 645.5,35.9 629.0,57.9 618.0,52.4"/>
<polygon fill="#bf1a26" points="642.8,12.4 662.1,6.9 669.0,13.8 656.6,17.1"/>
<polygon fill="#780066" points="648.3,22.1 669.0,27.6 669.0,41.4 659.3,38.6"/>
<polygon fill="#780066" points="532.4,102.1 546.2,104.8 546.2,115.9 535.2,115.9"/>
<polygon fill="#780066" points="535.2,124.2 562.8,138.0 557.3,147.1 543.5,147.1"/>
<polygon fill="#bf1a26" points="593.1,124.2 601.4,124.2 601.4,132.4 593.1,132.4"/>
<polygon fill="#bf1a26" points="535.2,96.6 544.8,93.8 546.2,102.1 536.6,103.5"/>
<polygon fill="#b11a26" points="455.2,11.0 464.8,11.0 464.8,17.9 455.2,17.9"/>
<polygon fill="#bf1a26" points="601.4,216.0 615.2,216.0 615.2,238.1 601.4,240.8"/>
<polygon fill="#bf1a26" points="615.2,246.3 629.0,246.3 629.0,257.4 620.7,268.4 615.2,257.4"/>
<polygon fill="#bf1a26" points="634.5,152.5 645.5,155.3 642.8,160.8 634.5,159.4"/>
<polygon fill="#cd1a26" points="549.0,299.5 562.8,296.8 573.8,307.8 568.3,316.1 554.5,310.6"/>
<polygon fill="#cd1a26" points="540.7,368.5 557.3,363.0 576.6,374.0 582.1,385.1 562.8,385.1 543.5,379.5"/>
<polygon fill="#cd1a26" points="601.4,412.6 615.2,398.8 629.0,404.4 645.5,407.1 659.3,401.6 669.0,404.4 669.0,441.1 656.6,437.5 634.5,426.4 612.4,418.2"/>
<polygon fill="#bf5926" points="488.3,340.9 496.6,340.9 507.6,354.7 515.9,318.8 524.1,321.6 524.1,349.2 535.2,365.7 535.2,390.6 524.1,398.8 507.6,390.6 496.6,376.8"/>
<polygon fill="#dc99cc" points="488.3,340.9 496.6,340.9 510.4,357.5 507.6,376.8 496.6,374.0"/>
<polygon fill="#bf1a26" points="496.6,426.4 507.6,398.8 524.1,398.8 515.9,418.2 507.6,441.1 496.6,441.1"/>
<polygon fill="#a31440" points="645.5,313.3 653.8,313.3 653.8,321.6 645.5,321.6"/></g>
</g>
<g font-size="10.6" fill="#111">
<rect x="29.2" y="63.80" width="27" height="13" fill="#0000ff" stroke="#8a8a8a" stroke-opacity=".55" stroke-width=".6"/>
<text x="61" y="74.40">0-5</text>
<rect x="29.2" y="82.13" width="27" height="13" fill="#1e32ff" stroke="#8a8a8a" stroke-opacity=".55" stroke-width=".6"/>
<text x="61" y="92.73">5-10</text>
<rect x="29.2" y="100.46" width="27" height="13" fill="#325aff" stroke="#8a8a8a" stroke-opacity=".55" stroke-width=".6"/>
<text x="61" y="111.06">10-15</text>
<rect x="29.2" y="118.79" width="27" height="13" fill="#377dff" stroke="#8a8a8a" stroke-opacity=".55" stroke-width=".6"/>
<text x="61" y="129.39">15-20</text>
<rect x="29.2" y="137.12" width="27" height="13" fill="#32aaff" stroke="#8a8a8a" stroke-opacity=".55" stroke-width=".6"/>
<text x="61" y="147.72">20-25</text>
<rect x="29.2" y="155.45" width="27" height="13" fill="#1ed7ff" stroke="#8a8a8a" stroke-opacity=".55" stroke-width=".6"/>
<text x="61" y="166.05">25-30</text>
<rect x="29.2" y="173.78" width="27" height="13" fill="#28fff0" stroke="#8a8a8a" stroke-opacity=".55" stroke-width=".6"/>
<text x="61" y="184.38">30-35</text>
<rect x="29.2" y="192.11" width="27" height="13" fill="#78ffc8" stroke="#8a8a8a" stroke-opacity=".55" stroke-width=".6"/>
<text x="61" y="202.71">35-40</text>
<rect x="29.2" y="210.44" width="27" height="13" fill="#aaff96" stroke="#8a8a8a" stroke-opacity=".55" stroke-width=".6"/>
<text x="61" y="221.04">40-45</text>
<rect x="29.2" y="228.77" width="27" height="13" fill="#beff78" stroke="#8a8a8a" stroke-opacity=".55" stroke-width=".6"/>
<text x="61" y="239.37">45-50</text>
<rect x="29.2" y="247.10" width="27" height="13" fill="#dcff50" stroke="#8a8a8a" stroke-opacity=".55" stroke-width=".6"/>
<text x="61" y="257.70">50-55</text>
<rect x="29.2" y="265.43" width="27" height="13" fill="#ffff1e" stroke="#8a8a8a" stroke-opacity=".55" stroke-width=".6"/>
<text x="61" y="276.03">55-60</text>
<rect x="29.2" y="283.76" width="27" height="13" fill="#ffdc00" stroke="#8a8a8a" stroke-opacity=".55" stroke-width=".6"/>
<text x="61" y="294.36">60-65</text>
<rect x="29.2" y="302.09" width="27" height="13" fill="#ffb900" stroke="#8a8a8a" stroke-opacity=".55" stroke-width=".6"/>
<text x="61" y="312.69">65-70</text>
<rect x="29.2" y="320.42" width="27" height="13" fill="#ff9600" stroke="#8a8a8a" stroke-opacity=".55" stroke-width=".6"/>
<text x="61" y="331.02">70-75</text>
<rect x="29.2" y="338.75" width="27" height="13" fill="#ff6900" stroke="#8a8a8a" stroke-opacity=".55" stroke-width=".6"/>
<text x="61" y="349.35">75-80</text>
<rect x="29.2" y="357.08" width="27" height="13" fill="#ff410f" stroke="#8a8a8a" stroke-opacity=".55" stroke-width=".6"/>
<text x="61" y="367.68">80-85</text>
<rect x="29.2" y="375.41" width="27" height="13" fill="#ff0000" stroke="#8a8a8a" stroke-opacity=".55" stroke-width=".6"/>
<text x="61" y="386.01">85-90</text>
</g>
<text transform="translate(12.9,223.3) rotate(-90)" text-anchor="middle" font-size="14.7" fill="#1a1a1a" stroke="#1a1a1a" stroke-width=".25">Anzahl der Sommertage</text>
<text x="379.5" y="467" text-anchor="middle" font-size="14.2" fill="#303030" textLength="215" lengthAdjust="spacingAndGlyphs">Wien- Hohe Warte: T01 Sommer</text>
<g stroke="#d2d2d2" stroke-width="1" fill="none">
<line x1="81.94" y1="495.3" x2="81.94" y2="789.3"/>
<line x1="105.07" y1="495.3" x2="105.07" y2="789.3"/>
<line x1="128.20" y1="495.3" x2="128.20" y2="789.3"/>
<line x1="151.34" y1="495.3" x2="151.34" y2="789.3"/>
<line x1="174.47" y1="495.3" x2="174.47" y2="789.3"/>
<line x1="197.61" y1="495.3" x2="197.61" y2="789.3"/>
<line x1="220.75" y1="495.3" x2="220.75" y2="789.3"/>
<line x1="243.88" y1="495.3" x2="243.88" y2="789.3"/>
<line x1="267.01" y1="495.3" x2="267.01" y2="789.3"/>
<line x1="290.15" y1="495.3" x2="290.15" y2="789.3"/>
<line x1="313.28" y1="495.3" x2="313.28" y2="789.3"/>
<line x1="336.42" y1="495.3" x2="336.42" y2="789.3"/>
<line x1="359.56" y1="495.3" x2="359.56" y2="789.3"/>
<line x1="382.69" y1="495.3" x2="382.69" y2="789.3"/>
<line x1="405.82" y1="495.3" x2="405.82" y2="789.3"/>
<line x1="428.96" y1="495.3" x2="428.96" y2="789.3"/>
<line x1="452.09" y1="495.3" x2="452.09" y2="789.3"/>
<line x1="475.23" y1="495.3" x2="475.23" y2="789.3"/>
<line x1="498.37" y1="495.3" x2="498.37" y2="789.3"/>
<line x1="521.50" y1="495.3" x2="521.50" y2="789.3"/>
<line x1="544.63" y1="495.3" x2="544.63" y2="789.3"/>
<line x1="567.77" y1="495.3" x2="567.77" y2="789.3"/>
<line x1="590.90" y1="495.3" x2="590.90" y2="789.3"/>
<line x1="614.04" y1="495.3" x2="614.04" y2="789.3"/>
<line x1="637.17" y1="495.3" x2="637.17" y2="789.3"/>
<line x1="660.31" y1="495.3" x2="660.31" y2="789.3"/>
<line x1="58.6" y1="730.50" x2="671.3" y2="730.50"/>
<line x1="58.6" y1="671.70" x2="671.3" y2="671.70"/>
<line x1="58.6" y1="612.90" x2="671.3" y2="612.90"/>
<line x1="58.6" y1="554.10" x2="671.3" y2="554.10"/>
</g>
<g stroke="#9a9a9a" stroke-width="1" fill="none">
<line x1="58.6" y1="495.3" x2="58.6" y2="792.3"/>
<line x1="54.6" y1="789.3" x2="671.3" y2="789.3"/>
<line x1="81.94" y1="789.3" x2="81.94" y2="792.3"/>
<line x1="105.07" y1="789.3" x2="105.07" y2="792.3"/>
<line x1="128.20" y1="789.3" x2="128.20" y2="792.3"/>
<line x1="151.34" y1="789.3" x2="151.34" y2="792.3"/>
<line x1="174.47" y1="789.3" x2="174.47" y2="792.3"/>
<line x1="197.61" y1="789.3" x2="197.61" y2="792.3"/>
<line x1="220.75" y1="789.3" x2="220.75" y2="792.3"/>
<line x1="243.88" y1="789.3" x2="243.88" y2="792.3"/>
<line x1="267.01" y1="789.3" x2="267.01" y2="792.3"/>
<line x1="290.15" y1="789.3" x2="290.15" y2="792.3"/>
<line x1="313.28" y1="789.3" x2="313.28" y2="792.3"/>
<line x1="336.42" y1="789.3" x2="336.42" y2="792.3"/>
<line x1="359.56" y1="789.3" x2="359.56" y2="792.3"/>
<line x1="382.69" y1="789.3" x2="382.69" y2="792.3"/>
<line x1="405.82" y1="789.3" x2="405.82" y2="792.3"/>
<line x1="428.96" y1="789.3" x2="428.96" y2="792.3"/>
<line x1="452.09" y1="789.3" x2="452.09" y2="792.3"/>
<line x1="475.23" y1="789.3" x2="475.23" y2="792.3"/>
<line x1="498.37" y1="789.3" x2="498.37" y2="792.3"/>
<line x1="521.50" y1="789.3" x2="521.50" y2="792.3"/>
<line x1="544.63" y1="789.3" x2="544.63" y2="792.3"/>
<line x1="567.77" y1="789.3" x2="567.77" y2="792.3"/>
<line x1="590.90" y1="789.3" x2="590.90" y2="792.3"/>
<line x1="614.04" y1="789.3" x2="614.04" y2="792.3"/>
<line x1="637.17" y1="789.3" x2="637.17" y2="792.3"/>
<line x1="660.31" y1="789.3" x2="660.31" y2="792.3"/>
<line x1="54.6" y1="730.50" x2="58.6" y2="730.50"/>
<line x1="54.6" y1="671.70" x2="58.6" y2="671.70"/>
<line x1="54.6" y1="612.90" x2="58.6" y2="612.90"/>
<line x1="54.6" y1="554.10" x2="58.6" y2="554.10"/>
<line x1="54.6" y1="495.30" x2="58.6" y2="495.30"/>
</g>
<path d="M58.1,495.3 H671.3 V789.8" fill="none" stroke="#161616" stroke-width="1.35"/>
<g font-size="10.4" fill="#2a2a2a" text-anchor="end">
<text x="47.2" y="793.00">15</text>
<text x="47.2" y="734.20">17</text>
<text x="47.2" y="675.40">19</text>
<text x="47.2" y="616.60">21</text>
<text x="47.2" y="557.80">23</text>
<text x="47.2" y="499.00">25</text>
</g>
<g font-size="10.2" fill="#2a2a2a" text-anchor="end">
<text transform="translate(62.70,797.3) rotate(-90)" textLength="23.6" lengthAdjust="spacingAndGlyphs">1760</text>
<text transform="translate(85.84,797.3) rotate(-90)" textLength="23.6" lengthAdjust="spacingAndGlyphs">1770</text>
<text transform="translate(108.97,797.3) rotate(-90)" textLength="23.6" lengthAdjust="spacingAndGlyphs">1780</text>
<text transform="translate(132.10,797.3) rotate(-90)" textLength="23.6" lengthAdjust="spacingAndGlyphs">1790</text>
<text transform="translate(155.24,797.3) rotate(-90)" textLength="23.6" lengthAdjust="spacingAndGlyphs">1800</text>
<text transform="translate(178.38,797.3) rotate(-90)" textLength="23.6" lengthAdjust="spacingAndGlyphs">1810</text>
<text transform="translate(201.51,797.3) rotate(-90)" textLength="23.6" lengthAdjust="spacingAndGlyphs">1820</text>
<text transform="translate(224.65,797.3) rotate(-90)" textLength="23.6" lengthAdjust="spacingAndGlyphs">1830</text>
<text transform="translate(247.78,797.3) rotate(-90)" textLength="23.6" lengthAdjust="spacingAndGlyphs">1840</text>
<text transform="translate(270.91,797.3) rotate(-90)" textLength="23.6" lengthAdjust="spacingAndGlyphs">1850</text>
<text transform="translate(294.05,797.3) rotate(-90)" textLength="23.6" lengthAdjust="spacingAndGlyphs">1860</text>
<text transform="translate(317.18,797.3) rotate(-90)" textLength="23.6" lengthAdjust="spacingAndGlyphs">1870</text>
<text transform="translate(340.32,797.3) rotate(-90)" textLength="23.6" lengthAdjust="spacingAndGlyphs">1880</text>
<text transform="translate(363.45,797.3) rotate(-90)" textLength="23.6" lengthAdjust="spacingAndGlyphs">1890</text>
<text transform="translate(386.59,797.3) rotate(-90)" textLength="23.6" lengthAdjust="spacingAndGlyphs">1900</text>
<text transform="translate(409.72,797.3) rotate(-90)" textLength="23.6" lengthAdjust="spacingAndGlyphs">1910</text>
<text transform="translate(432.86,797.3) rotate(-90)" textLength="23.6" lengthAdjust="spacingAndGlyphs">1920</text>
<text transform="translate(455.99,797.3) rotate(-90)" textLength="23.6" lengthAdjust="spacingAndGlyphs">1930</text>
<text transform="translate(479.13,797.3) rotate(-90)" textLength="23.6" lengthAdjust="spacingAndGlyphs">1940</text>
<text transform="translate(502.26,797.3) rotate(-90)" textLength="23.6" lengthAdjust="spacingAndGlyphs">1950</text>
<text transform="translate(525.40,797.3) rotate(-90)" textLength="23.6" lengthAdjust="spacingAndGlyphs">1960</text>
<text transform="translate(548.53,797.3) rotate(-90)" textLength="23.6" lengthAdjust="spacingAndGlyphs">1970</text>
<text transform="translate(571.67,797.3) rotate(-90)" textLength="23.6" lengthAdjust="spacingAndGlyphs">1980</text>
<text transform="translate(594.80,797.3) rotate(-90)" textLength="23.6" lengthAdjust="spacingAndGlyphs">1990</text>
<text transform="translate(617.94,797.3) rotate(-90)" textLength="23.6" lengthAdjust="spacingAndGlyphs">2000</text>
<text transform="translate(641.07,797.3) rotate(-90)" textLength="23.6" lengthAdjust="spacingAndGlyphs">2010</text>
<text transform="translate(664.21,797.3) rotate(-90)" textLength="23.6" lengthAdjust="spacingAndGlyphs">2020</text>
</g>
<text transform="translate(28.0,642.9) rotate(-90)" text-anchor="middle" font-size="12.2" fill="#333" textLength="163.5" lengthAdjust="spacingAndGlyphs">mittlere Lufttemperatur [°C]</text>
<line x1="62.3" y1="484.9" x2="82.8" y2="484.9" stroke="#2c7014" stroke-width="1.5"/>
<circle cx="72.3" cy="484.9" r="2.3" fill="#ffef8a" stroke="#111" stroke-width=".9"/>
<text x="84.8" y="487.6" font-size="8" fill="#555" textLength="51.7" lengthAdjust="spacingAndGlyphs">einzelne Jahre</text>
<line x1="142" y1="484.9" x2="163" y2="484.9" stroke="#f00" stroke-width="2"/>
<text x="164.5" y="487.6" font-size="8" fill="#555" textLength="119" lengthAdjust="spacingAndGlyphs">5-jähriger gleitender Mittelwert</text>
<polyline fill="none" stroke="#2c7014" stroke-width="1.5" stroke-linejoin="round" points="93.5,648.2 95.8,695.2 98.1,686.4 100.4,654.1 102.8,712.9 105.1,689.3 107.4,639.4 109.7,645.2 112.0,642.3 114.3,671.7 116.6,736.4 119.0,727.6 121.3,686.4 123.6,668.8 125.9,689.3 128.2,668.8 130.5,665.8 132.8,662.9 135.1,677.6 137.5,636.4 139.8,683.5 142.1,671.7 144.4,627.6 146.7,665.8 149.0,692.3 151.3,689.3 153.7,709.9 156.0,642.3 158.3,683.5 160.6,680.5 162.9,724.6 165.2,692.3 167.5,621.7 169.8,639.4 172.2,665.8 174.5,698.2 176.8,586.4 179.1,709.9 181.4,754.0 183.7,701.1 186.0,727.6 188.4,745.2 190.7,674.6 193.0,695.2 195.3,680.5 197.6,695.2 199.9,745.2 202.2,639.4 204.6,715.8 206.9,692.3 209.2,707.0 211.5,630.5 213.8,654.1 216.1,686.4 218.4,745.2 220.7,671.7 223.1,707.0 225.4,704.0 227.7,733.4 230.0,607.0 232.3,665.8 234.6,686.4 236.9,718.7 239.3,730.5 241.6,680.5 243.9,730.5 246.2,712.9 248.5,674.6 250.8,733.4 253.1,733.4 255.4,695.2 257.8,636.4 260.1,712.9 262.4,683.5 264.7,712.9 267.0,695.2 269.3,733.4 271.6,668.8 274.0,668.8 276.3,701.1 278.6,665.8 280.9,671.7 283.2,642.3 285.5,668.8 287.8,610.0 290.1,698.2 292.5,645.2 294.8,686.4 297.1,654.1 299.4,718.7 301.7,674.6 304.0,674.6 306.3,677.6 308.7,642.3 311.0,689.3 313.3,689.3 315.6,701.1 317.9,698.2 320.2,645.2 322.5,662.9 324.9,645.2 327.2,665.8 329.5,648.2 331.8,695.2 334.1,695.2 336.4,686.4 338.7,668.8 341.0,721.7 343.4,689.3 345.7,712.9 348.0,677.6 350.3,701.1 352.6,671.7 354.9,709.9 357.2,674.6 359.6,692.3 361.9,715.8 364.2,674.6 366.5,689.3 368.8,698.2 371.1,686.4 373.4,707.0 375.7,677.6 378.1,704.0 380.4,701.1 382.7,683.5 385.0,662.9 387.3,727.6 389.6,715.8 391.9,657.0 394.3,659.9 396.6,709.9 398.9,707.0 401.2,689.3 403.5,718.7 405.8,712.9 408.1,665.8 410.5,715.8 412.8,745.2 415.1,712.9 417.4,707.0 419.7,724.6 422.0,648.2 424.3,730.5 426.6,724.6 429.0,724.6 431.3,677.6 433.6,695.2 435.9,715.8 438.2,721.7 440.5,712.9 442.8,733.4 445.2,680.5 447.5,668.8 449.8,680.5 452.1,665.8 454.4,671.7 456.7,662.9 459.0,695.2 461.3,662.9 463.7,665.8 466.0,689.3 468.3,674.6 470.6,668.8 472.9,677.6 475.2,721.7 477.5,715.8 479.9,704.0 482.2,686.4 484.5,683.5 486.8,651.1 489.1,654.1 491.4,639.4 493.7,704.0 496.1,701.1 498.4,633.5 500.7,665.8 503.0,645.2 505.3,668.8 507.6,686.4 509.9,701.1 512.2,692.3 514.6,662.9 516.9,683.5 519.2,680.5 521.5,698.2 523.8,677.6 526.1,698.2 528.4,654.1 530.8,657.0 533.1,712.9 535.4,698.2 537.7,665.8 540.0,683.5 542.3,695.2 544.6,674.6 546.9,668.8 549.3,674.6 551.6,668.8 553.9,683.5 556.2,677.6 558.5,680.5 560.8,674.6 563.1,709.9 565.5,686.4 567.8,692.3 570.1,662.9 572.4,651.1 574.7,627.6 577.0,701.1 579.3,680.5 581.7,668.8 584.0,677.6 586.3,651.1 588.6,677.6 590.9,654.1 593.2,648.2 595.5,595.3 597.8,662.9 600.2,607.0 602.5,642.3 604.8,677.6 607.1,659.9 609.4,636.4 611.7,659.9 614.0,636.4 616.4,642.3 618.7,615.8 621.0,565.9 623.3,651.1 625.6,654.1 627.9,633.5 630.2,607.0 632.5,630.5 634.9,636.4 637.2,633.5 639.5,639.4 641.8,604.1 644.1,612.9 646.4,636.4 648.7,565.9 651.1,612.9 653.4,574.7 655.7,568.8 658.0,554.1 660.3,618.8 662.6,598.2 664.9,571.7"/>
<g fill="#fff1a0" stroke="#151515" stroke-width="1">
<circle cx="93.5" cy="648.2" r="2.35"/>
<circle cx="95.8" cy="695.2" r="2.35"/>
<circle cx="98.1" cy="686.4" r="2.35"/>
<circle cx="100.4" cy="654.1" r="2.35"/>
<circle cx="102.8" cy="712.9" r="2.35"/>
<circle cx="105.1" cy="689.3" r="2.35"/>
<circle cx="107.4" cy="639.4" r="2.35"/>
<circle cx="109.7" cy="645.2" r="2.35"/>
<circle cx="112.0" cy="642.3" r="2.35"/>
<circle cx="114.3" cy="671.7" r="2.35"/>
<circle cx="116.6" cy="736.4" r="2.35"/>
<circle cx="119.0" cy="727.6" r="2.35"/>
<circle cx="121.3" cy="686.4" r="2.35"/>
<circle cx="123.6" cy="668.8" r="2.35"/>
<circle cx="125.9" cy="689.3" r="2.35"/>
<circle cx="128.2" cy="668.8" r="2.35"/>
<circle cx="130.5" cy="665.8" r="2.35"/>
<circle cx="132.8" cy="662.9" r="2.35"/>
<circle cx="135.1" cy="677.6" r="2.35"/>
<circle cx="137.5" cy="636.4" r="2.35"/>
<circle cx="139.8" cy="683.5" r="2.35"/>
<circle cx="142.1" cy="671.7" r="2.35"/>
<circle cx="144.4" cy="627.6" r="2.35"/>
<circle cx="146.7" cy="665.8" r="2.35"/>
<circle cx="149.0" cy="692.3" r="2.35"/>
<circle cx="151.3" cy="689.3" r="2.35"/>
<circle cx="153.7" cy="709.9" r="2.35"/>
<circle cx="156.0" cy="642.3" r="2.35"/>
<circle cx="158.3" cy="683.5" r="2.35"/>
<circle cx="160.6" cy="680.5" r="2.35"/>
<circle cx="162.9" cy="724.6" r="2.35"/>
<circle cx="165.2" cy="692.3" r="2.35"/>
<circle cx="167.5" cy="621.7" r="2.35"/>
<circle cx="169.8" cy="639.4" r="2.35"/>
<circle cx="172.2" cy="665.8" r="2.35"/>
<circle cx="174.5" cy="698.2" r="2.35"/>
<circle cx="176.8" cy="586.4" r="2.35"/>
<circle cx="179.1" cy="709.9" r="2.35"/>
<circle cx="181.4" cy="754.0" r="2.35"/>
<circle cx="183.7" cy="701.1" r="2.35"/>
<circle cx="186.0" cy="727.6" r="2.35"/>
<circle cx="188.4" cy="745.2" r="2.35"/>
<circle cx="190.7" cy="674.6" r="2.35"/>
<circle cx="193.0" cy="695.2" r="2.35"/>
<circle cx="195.3" cy="680.5" r="2.35"/>
<circle cx="197.6" cy="695.2" r="2.35"/>
<circle cx="199.9" cy="745.2" r="2.35"/>
<circle cx="202.2" cy="639.4" r="2.35"/>
<circle cx="204.6" cy="715.8" r="2.35"/>
<circle cx="206.9" cy="692.3" r="2.35"/>
<circle cx="209.2" cy="707.0" r="2.35"/>
<circle cx="211.5" cy="630.5" r="2.35"/>
<circle cx="213.8" cy="654.1" r="2.35"/>
<circle cx="216.1" cy="686.4" r="2.35"/>
<circle cx="218.4" cy="745.2" r="2.35"/>
<circle cx="220.7" cy="671.7" r="2.35"/>
<circle cx="223.1" cy="707.0" r="2.35"/>
<circle cx="225.4" cy="704.0" r="2.35"/>
<circle cx="227.7" cy="733.4" r="2.35"/>
<circle cx="230.0" cy="607.0" r="2.35"/>
<circle cx="232.3" cy="665.8" r="2.35"/>
<circle cx="234.6" cy="686.4" r="2.35"/>
<circle cx="236.9" cy="718.7" r="2.35"/>
<circle cx="239.3" cy="730.5" r="2.35"/>
<circle cx="241.6" cy="680.5" r="2.35"/>
<circle cx="243.9" cy="730.5" r="2.35"/>
<circle cx="246.2" cy="712.9" r="2.35"/>
<circle cx="248.5" cy="674.6" r="2.35"/>
<circle cx="250.8" cy="733.4" r="2.35"/>
<circle cx="253.1" cy="733.4" r="2.35"/>
<circle cx="255.4" cy="695.2" r="2.35"/>
<circle cx="257.8" cy="636.4" r="2.35"/>
<circle cx="260.1" cy="712.9" r="2.35"/>
<circle cx="262.4" cy="683.5" r="2.35"/>
<circle cx="264.7" cy="712.9" r="2.35"/>
<circle cx="267.0" cy="695.2" r="2.35"/>
<circle cx="269.3" cy="733.4" r="2.35"/>
<circle cx="271.6" cy="668.8" r="2.35"/>
<circle cx="274.0" cy="668.8" r="2.35"/>
<circle cx="276.3" cy="701.1" r="2.35"/>
<circle cx="278.6" cy="665.8" r="2.35"/>
<circle cx="280.9" cy="671.7" r="2.35"/>
<circle cx="283.2" cy="642.3" r="2.35"/>
<circle cx="285.5" cy="668.8" r="2.35"/>
<circle cx="287.8" cy="610.0" r="2.35"/>
<circle cx="290.1" cy="698.2" r="2.35"/>
<circle cx="292.5" cy="645.2" r="2.35"/>
<circle cx="294.8" cy="686.4" r="2.35"/>
<circle cx="297.1" cy="654.1" r="2.35"/>
<circle cx="299.4" cy="718.7" r="2.35"/>
<circle cx="301.7" cy="674.6" r="2.35"/>
<circle cx="304.0" cy="674.6" r="2.35"/>
<circle cx="306.3" cy="677.6" r="2.35"/>
<circle cx="308.7" cy="642.3" r="2.35"/>
<circle cx="311.0" cy="689.3" r="2.35"/>
<circle cx="313.3" cy="689.3" r="2.35"/>
<circle cx="315.6" cy="701.1" r="2.35"/>
<circle cx="317.9" cy="698.2" r="2.35"/>
<circle cx="320.2" cy="645.2" r="2.35"/>
<circle cx="322.5" cy="662.9" r="2.35"/>
<circle cx="324.9" cy="645.2" r="2.35"/>
<circle cx="327.2" cy="665.8" r="2.35"/>
<circle cx="329.5" cy="648.2" r="2.35"/>
<circle cx="331.8" cy="695.2" r="2.35"/>
<circle cx="334.1" cy="695.2" r="2.35"/>
<circle cx="336.4" cy="686.4" r="2.35"/>
<circle cx="338.7" cy="668.8" r="2.35"/>
<circle cx="341.0" cy="721.7" r="2.35"/>
<circle cx="343.4" cy="689.3" r="2.35"/>
<circle cx="345.7" cy="712.9" r="2.35"/>
<circle cx="348.0" cy="677.6" r="2.35"/>
<circle cx="350.3" cy="701.1" r="2.35"/>
<circle cx="352.6" cy="671.7" r="2.35"/>
<circle cx="354.9" cy="709.9" r="2.35"/>
<circle cx="357.2" cy="674.6" r="2.35"/>
<circle cx="359.6" cy="692.3" r="2.35"/>
<circle cx="361.9" cy="715.8" r="2.35"/>
<circle cx="364.2" cy="674.6" r="2.35"/>
<circle cx="366.5" cy="689.3" r="2.35"/>
<circle cx="368.8" cy="698.2" r="2.35"/>
<circle cx="371.1" cy="686.4" r="2.35"/>
<circle cx="373.4" cy="707.0" r="2.35"/>
<circle cx="375.7" cy="677.6" r="2.35"/>
<circle cx="378.1" cy="704.0" r="2.35"/>
<circle cx="380.4" cy="701.1" r="2.35"/>
<circle cx="382.7" cy="683.5" r="2.35"/>
<circle cx="385.0" cy="662.9" r="2.35"/>
<circle cx="387.3" cy="727.6" r="2.35"/>
<circle cx="389.6" cy="715.8" r="2.35"/>
<circle cx="391.9" cy="657.0" r="2.35"/>
<circle cx="394.3" cy="659.9" r="2.35"/>
<circle cx="396.6" cy="709.9" r="2.35"/>
<circle cx="398.9" cy="707.0" r="2.35"/>
<circle cx="401.2" cy="689.3" r="2.35"/>
<circle cx="403.5" cy="718.7" r="2.35"/>
<circle cx="405.8" cy="712.9" r="2.35"/>
<circle cx="408.1" cy="665.8" r="2.35"/>
<circle cx="410.5" cy="715.8" r="2.35"/>
<circle cx="412.8" cy="745.2" r="2.35"/>
<circle cx="415.1" cy="712.9" r="2.35"/>
<circle cx="417.4" cy="707.0" r="2.35"/>
<circle cx="419.7" cy="724.6" r="2.35"/>
<circle cx="422.0" cy="648.2" r="2.35"/>
<circle cx="424.3" cy="730.5" r="2.35"/>
<circle cx="426.6" cy="724.6" r="2.35"/>
<circle cx="429.0" cy="724.6" r="2.35"/>
<circle cx="431.3" cy="677.6" r="2.35"/>
<circle cx="433.6" cy="695.2" r="2.35"/>
<circle cx="435.9" cy="715.8" r="2.35"/>
<circle cx="438.2" cy="721.7" r="2.35"/>
<circle cx="440.5" cy="712.9" r="2.35"/>
<circle cx="442.8" cy="733.4" r="2.35"/>
<circle cx="445.2" cy="680.5" r="2.35"/>
<circle cx="447.5" cy="668.8" r="2.35"/>
<circle cx="449.8" cy="680.5" r="2.35"/>
<circle cx="452.1" cy="665.8" r="2.35"/>
<circle cx="454.4" cy="671.7" r="2.35"/>
<circle cx="456.7" cy="662.9" r="2.35"/>
<circle cx="459.0" cy="695.2" r="2.35"/>
<circle cx="461.3" cy="662.9" r="2.35"/>
<circle cx="463.7" cy="665.8" r="2.35"/>
<circle cx="466.0" cy="689.3" r="2.35"/>
<circle cx="468.3" cy="674.6" r="2.35"/>
<circle cx="470.6" cy="668.8" r="2.35"/>
<circle cx="472.9" cy="677.6" r="2.35"/>
<circle cx="475.2" cy="721.7" r="2.35"/>
<circle cx="477.5" cy="715.8" r="2.35"/>
<circle cx="479.9" cy="704.0" r="2.35"/>
<circle cx="482.2" cy="686.4" r="2.35"/>
<circle cx="484.5" cy="683.5" r="2.35"/>
<circle cx="486.8" cy="651.1" r="2.35"/>
<circle cx="489.1" cy="654.1" r="2.35"/>
<circle cx="491.4" cy="639.4" r="2.35"/>
<circle cx="493.7" cy="704.0" r="2.35"/>
<circle cx="496.1" cy="701.1" r="2.35"/>
<circle cx="498.4" cy="633.5" r="2.35"/>
<circle cx="500.7" cy="665.8" r="2.35"/>
<circle cx="503.0" cy="645.2" r="2.35"/>
<circle cx="505.3" cy="668.8" r="2.35"/>
<circle cx="507.6" cy="686.4" r="2.35"/>
<circle cx="509.9" cy="701.1" r="2.35"/>
<circle cx="512.2" cy="692.3" r="2.35"/>
<circle cx="514.6" cy="662.9" r="2.35"/>
<circle cx="516.9" cy="683.5" r="2.35"/>
<circle cx="519.2" cy="680.5" r="2.35"/>
<circle cx="521.5" cy="698.2" r="2.35"/>
<circle cx="523.8" cy="677.6" r="2.35"/>
<circle cx="526.1" cy="698.2" r="2.35"/>
<circle cx="528.4" cy="654.1" r="2.35"/>
<circle cx="530.8" cy="657.0" r="2.35"/>
<circle cx="533.1" cy="712.9" r="2.35"/>
<circle cx="535.4" cy="698.2" r="2.35"/>
<circle cx="537.7" cy="665.8" r="2.35"/>
<circle cx="540.0" cy="683.5" r="2.35"/>
<circle cx="542.3" cy="695.2" r="2.35"/>
<circle cx="544.6" cy="674.6" r="2.35"/>
<circle cx="546.9" cy="668.8" r="2.35"/>
<circle cx="549.3" cy="674.6" r="2.35"/>
<circle cx="551.6" cy="668.8" r="2.35"/>
<circle cx="553.9" cy="683.5" r="2.35"/>
<circle cx="556.2" cy="677.6" r="2.35"/>
<circle cx="558.5" cy="680.5" r="2.35"/>
<circle cx="560.8" cy="674.6" r="2.35"/>
<circle cx="563.1" cy="709.9" r="2.35"/>
<circle cx="565.5" cy="686.4" r="2.35"/>
<circle cx="567.8" cy="692.3" r="2.35"/>
<circle cx="570.1" cy="662.9" r="2.35"/>
<circle cx="572.4" cy="651.1" r="2.35"/>
<circle cx="574.7" cy="627.6" r="2.35"/>
<circle cx="577.0" cy="701.1" r="2.35"/>
<circle cx="579.3" cy="680.5" r="2.35"/>
<circle cx="581.7" cy="668.8" r="2.35"/>
<circle cx="584.0" cy="677.6" r="2.35"/>
<circle cx="586.3" cy="651.1" r="2.35"/>
<circle cx="588.6" cy="677.6" r="2.35"/>
<circle cx="590.9" cy="654.1" r="2.35"/>
<circle cx="593.2" cy="648.2" r="2.35"/>
<circle cx="595.5" cy="595.3" r="2.35"/>
<circle cx="597.8" cy="662.9" r="2.35"/>
<circle cx="600.2" cy="607.0" r="2.35"/>
<circle cx="602.5" cy="642.3" r="2.35"/>
<circle cx="604.8" cy="677.6" r="2.35"/>
<circle cx="607.1" cy="659.9" r="2.35"/>
<circle cx="609.4" cy="636.4" r="2.35"/>
<circle cx="611.7" cy="659.9" r="2.35"/>
<circle cx="614.0" cy="636.4" r="2.35"/>
<circle cx="616.4" cy="642.3" r="2.35"/>
<circle cx="618.7" cy="615.8" r="2.35"/>
<circle cx="621.0" cy="565.9" r="2.35"/>
<circle cx="623.3" cy="651.1" r="2.35"/>
<circle cx="625.6" cy="654.1" r="2.35"/>
<circle cx="627.9" cy="633.5" r="2.35"/>
<circle cx="630.2" cy="607.0" r="2.35"/>
<circle cx="632.5" cy="630.5" r="2.35"/>
<circle cx="634.9" cy="636.4" r="2.35"/>
<circle cx="637.2" cy="633.5" r="2.35"/>
<circle cx="639.5" cy="639.4" r="2.35"/>
<circle cx="641.8" cy="604.1" r="2.35"/>
<circle cx="644.1" cy="612.9" r="2.35"/>
<circle cx="646.4" cy="636.4" r="2.35"/>
<circle cx="648.7" cy="565.9" r="2.35"/>
<circle cx="651.1" cy="612.9" r="2.35"/>
<circle cx="653.4" cy="574.7" r="2.35"/>
<circle cx="655.7" cy="568.8" r="2.35"/>
<circle cx="658.0" cy="554.1" r="2.35"/>
<circle cx="660.3" cy="618.8" r="2.35"/>
<circle cx="662.6" cy="598.2" r="2.35"/>
<circle cx="664.9" cy="571.7" r="2.35"/>
</g>
<polyline fill="none" stroke="#ff0a0a" stroke-width="2.1" stroke-linejoin="round" stroke-linecap="round" points="93.5,648.2 95.8,671.7 98.1,676.6 100.4,671.0 102.8,679.3 105.1,687.6 107.4,676.4 109.7,668.2 112.0,665.8 114.3,657.6 116.6,667.0 119.0,684.6 121.3,692.9 123.6,698.2 125.9,701.7 128.2,688.2 130.5,675.8 132.8,671.1 135.1,672.9 137.5,662.3 139.8,665.2 142.1,666.4 144.4,659.4 146.7,657.0 149.0,668.2 151.3,669.3 153.7,677.0 156.0,679.9 158.3,683.5 160.6,681.1 162.9,688.2 165.2,684.6 167.5,680.5 169.8,671.7 172.2,668.8 174.5,663.5 176.8,642.3 179.1,659.9 181.4,682.9 183.7,689.9 186.0,695.8 188.4,727.6 190.7,720.5 193.0,708.7 195.3,704.6 197.6,698.2 199.9,698.2 202.2,691.1 204.6,695.2 206.9,697.6 209.2,699.9 211.5,677.0 213.8,679.9 216.1,674.1 218.4,684.6 220.7,677.6 223.1,692.9 225.4,702.9 227.7,712.3 230.0,684.6 232.3,683.5 234.6,679.3 236.9,682.3 239.3,681.7 241.6,696.4 243.9,709.3 246.2,714.6 248.5,705.8 250.8,706.4 253.1,717.0 255.4,709.9 257.8,694.6 260.1,702.3 262.4,692.3 264.7,688.2 267.0,688.2 269.3,707.6 271.6,698.7 274.0,695.8 276.3,693.5 278.6,687.6 280.9,675.2 283.2,669.9 285.5,669.9 287.8,651.7 290.1,658.2 292.5,652.9 294.8,661.7 297.1,658.8 299.4,680.5 301.7,675.8 304.0,681.7 306.3,679.9 308.7,677.6 311.0,671.7 313.3,674.6 315.6,679.9 317.9,684.0 320.2,684.6 322.5,679.3 324.9,670.5 327.2,663.5 329.5,653.5 331.8,663.5 334.1,669.9 336.4,678.2 338.7,678.8 341.0,693.5 343.4,692.3 345.7,695.8 348.0,694.0 350.3,700.5 352.6,690.5 354.9,694.6 357.2,687.0 359.6,689.9 361.9,692.9 364.2,693.5 366.5,689.3 368.8,694.0 371.1,692.9 373.4,691.1 375.7,691.7 378.1,694.6 380.4,695.2 382.7,694.6 385.0,685.8 387.3,695.8 389.6,698.2 391.9,689.3 394.3,684.6 396.6,694.0 398.9,689.9 401.2,684.6 403.5,697.0 405.8,707.6 408.1,698.7 410.5,700.5 412.8,711.7 415.1,710.5 417.4,709.3 419.7,721.1 422.0,707.6 424.3,704.6 426.6,707.0 429.0,710.5 431.3,701.1 433.6,710.5 435.9,707.6 438.2,707.0 440.5,704.6 442.8,715.8 445.2,712.9 447.5,703.5 449.8,695.2 452.1,685.8 454.4,673.5 456.7,669.9 459.0,675.2 461.3,671.7 463.7,671.7 466.0,675.2 468.3,677.6 470.6,672.3 472.9,675.2 475.2,686.4 477.5,691.7 479.9,697.6 482.2,701.1 484.5,702.3 486.8,688.2 489.1,675.8 491.4,662.9 493.7,666.4 496.1,669.9 498.4,666.4 500.7,668.8 503.0,669.9 505.3,662.9 507.6,659.9 509.9,673.5 512.2,678.8 514.6,682.3 516.9,685.2 519.2,684.0 521.5,683.5 523.8,680.5 526.1,687.6 528.4,681.7 530.8,677.0 533.1,679.9 535.4,684.0 537.7,677.6 540.0,683.5 542.3,691.1 544.6,683.5 546.9,677.6 549.3,679.3 551.6,676.4 553.9,674.1 556.2,674.6 558.5,677.0 560.8,677.0 563.1,685.2 565.5,685.8 567.8,688.8 570.1,685.2 572.4,680.5 574.7,664.1 577.0,667.0 579.3,664.6 581.7,665.8 584.0,671.1 586.3,675.8 588.6,671.1 590.9,665.8 593.2,661.7 595.5,645.2 597.8,647.6 600.2,633.5 602.5,631.1 604.8,637.0 607.1,649.9 609.4,644.7 611.7,655.2 614.0,654.1 616.4,647.0 618.7,638.2 621.0,624.1 623.3,622.3 625.6,625.8 627.9,624.1 630.2,622.3 632.5,635.2 634.9,632.3 637.2,628.2 639.5,629.4 641.8,628.8 644.1,625.2 646.4,625.2 648.7,611.7 651.1,606.4 653.4,600.6 655.7,591.7 658.0,575.3 660.3,585.9 662.6,582.9 664.9,582.3"/>
<g clip-path="url(#lc)" fill="none" stroke="#183442" stroke-width="1.25" stroke-linecap="round">
<circle cx="4.4" cy="836.8" r="1.3"/>
<circle cx="4.4" cy="836.8" r="3.6"/>
<circle cx="4.4" cy="836.8" r="6.0"/>
<circle cx="4.4" cy="836.8" r="8.4"/>
<path d="M12.4,827 C15,831 15.5,836 13.5,840 C11,844 10.5,848 13,852"/>
<path d="M20.4,827 C22.5,832 22,838 20,841 C19.5,843.5 22,843.6 27,843.4 L31,844"/>
<circle cx="32" cy="836" r="4.6"/>
<circle cx="32" cy="836" r="7.0"/>
<circle cx="27.5" cy="856.5" r="3.2"/>
<circle cx="27.5" cy="856.5" r="5.8"/>
<circle cx="27.5" cy="856.5" r="8.4"/>
<path d="M15.3,826.5 C18.5,831 19,836 16.2,840.5 C13.5,844.5 13.5,846.5 18,847 C22,847.3 26,845.5 30,847.5" stroke="#c9da3b" stroke-width="1.35"/>
</g>
<text x="35.8" y="839.4" font-size="12.8" font-weight="bold" fill="#183442" textLength="60" lengthAdjust="spacingAndGlyphs">GeoSphere</text>
<text x="35.8" y="851.8" font-size="12" fill="#183442" textLength="37.2" lengthAdjust="spacingAndGlyphs">Austria</text>
<text x="108.2" y="850.6" font-size="12.6" fill="#111" stroke="#111" stroke-width=".4" textLength="233.5" lengthAdjust="spacingAndGlyphs">HISTALP - Homogenisierte Stationsdaten</text>
<text x="635.8" y="850.8" font-size="13.2" fill="#111" stroke="#111" stroke-width=".25" textLength="49.2" lengthAdjust="spacingAndGlyphs">2023/09</text>
</svg>
</body></html>
